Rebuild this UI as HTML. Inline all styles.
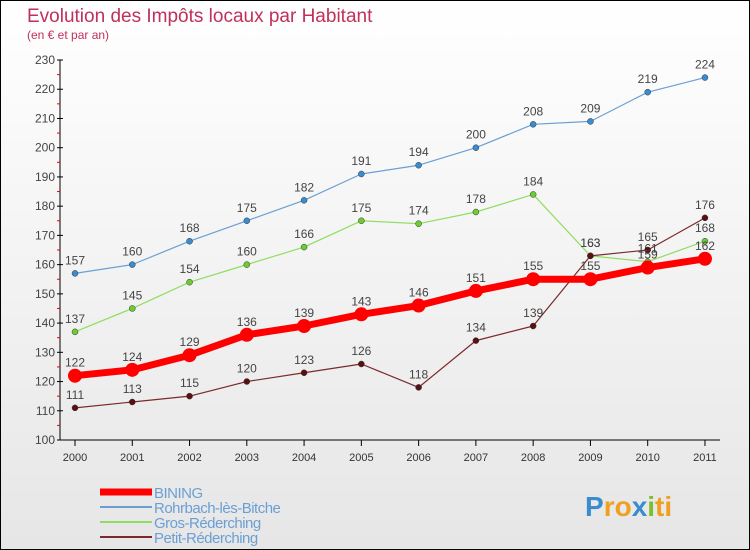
<!DOCTYPE html>
<html><head><meta charset="utf-8"><style>
body{margin:0;width:750px;height:550px;overflow:hidden;font-family:"Liberation Sans",sans-serif}
#c{position:absolute;left:0;top:0;width:748px;height:548px;border:1px solid #000;background:linear-gradient(#fff,#e6e6e6)}
</style></head><body>
<div id="c">
<svg id="s" width="750" height="550" style="position:absolute;left:-1px;top:-1px"></svg>
</div>
<script>
const years=[2000,2001,2002,2003,2004,2005,2006,2007,2008,2009,2010,2011];
const bining=[122,124,129,136,139,143,146,151,155,155,159,162];
const rohrbach=[157,160,168,175,182,191,194,200,208,209,219,224];
const gros=[137,145,154,160,166,175,174,178,184,163,161,168];
const petit=[111,113,115,120,123,126,118,134,139,163,165,176];
const yTicks=[100,110,120,130,140,150,160,170,180,190,200,210,220,230];
const NS="http://www.w3.org/2000/svg";
const svg=document.getElementById('s');
const x=i=>75+i*57.27;
const y=v=>440-(v-100)*2.923;
function el(t,a,p){const e=document.createElementNS(NS,t);for(const k in a)e.setAttribute(k,a[k]);(p||svg).appendChild(e);return e;}
function txt(s,a){const e=el('text',a);e.textContent=s;return e;}
const title=txt('Evolution des Impôts locaux par Habitant',{x:27,y:22,'font-size':19,fill:'#c0305a'});


const sub=txt('(en € et par an)',{x:27,y:39,'font-size':12,fill:'#c0305a'});


const ya=el('line',{x1:60,y1:60,x2:60,y2:440,stroke:'#000'});


const xa=el('line',{x1:60,y1:440,x2:720,y2:440,stroke:'#000'});


yTicks.forEach((v,i)=>{
  el('line',{x1:57,x2:63,y1:y(v),y2:y(v),stroke:'#000'});
  if(i<yTicks.length-1)el('line',{x1:57,x2:60,y1:y(v+5),y2:y(v+5),stroke:'#e00'});
  const t=txt(v,{x:55,y:y(v)+4,'font-size':12,fill:'#444','text-anchor':'end'});
  
  
});
years.forEach((yr,i)=>{
  el('line',{x1:x(i),x2:x(i),y1:440,y2:446,stroke:'#000'});
  const t=txt(yr,{x:x(i),y:461,'font-size':11,fill:'#333','text-anchor':'middle'});
  
  
});
function series(data,color,w,r,name,dot){
  const g=el('g',{});
  
  
  el('polyline',{points:data.map((v,i)=>x(i)+','+y(v)).join(' '),fill:'none',stroke:color,'stroke-width':w,'stroke-linejoin':'round'},g);
  data.forEach((v,i)=>{
    const c=el('circle',{cx:x(i),cy:y(v),r:r,fill:dot,stroke:'#333','stroke-width':r>5?0:0.5},g);
    
    
    const t=txt(v,{x:x(i),y:y(v)-9,'font-size':12,fill:'#444','text-anchor':'middle'});
    g.appendChild(t);
    
    
  });
}
series(rohrbach,'#6b9fd4',1.2,3,'rohrbach','#3a8cd0');
series(gros,'#90dd60',1.2,3,'gros-rederching','#6ccc30');
series(petit,'#7a2a2a',1.2,3,'petit-rederching','#5a1010');
series(bining,'#ff0000',7,7,'bining','#ff0000');
const leg=[['BINING','#ff0000',7],['Rohrbach-lès-Bitche','#6b9fd4',2],['Gros-Réderching','#90dd60',2],['Petit-Réderching','#7a2a2a',2]];
leg.forEach((l,i)=>{
  const yy=492+i*15;
  const g=el('g',{});
  
  
  el('line',{x1:100,x2:152,y1:yy,y2:yy,stroke:l[1],'stroke-width':l[2]},g);
  const t=txt(l[0],{x:154,y:yy+6,'font-size':15,fill:'#6b9fd4','letter-spacing':'-0.5'});
  g.appendChild(t);
});
const logo=txt('',{x:585,y:516,'font-size':28,'font-weight':'bold'});


[['P','#3a8cd0'],['ro','#f0a020'],['x','#3a8cd0'],['i','#7bc030'],['ti','#f0a020']].forEach(p=>{const s=el('tspan',{fill:p[1]},logo);s.textContent=p[0];});
</script>
</body></html>
